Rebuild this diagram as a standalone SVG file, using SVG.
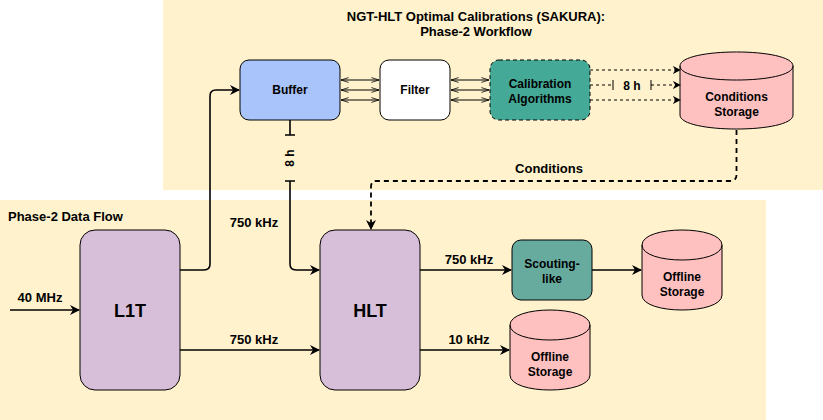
<svg xmlns="http://www.w3.org/2000/svg" width="823" height="420" viewBox="0 0 823 420">
<defs>
<style>
text{font-family:"Liberation Sans",Arial,sans-serif;font-weight:bold;font-size:12px;fill:#000;text-anchor:middle}
.big{font-size:18px}
.e{font-size:13px}
.lbl{text-anchor:start;font-size:13px}
.node{stroke:#000;stroke-width:1}
.c{fill:none;stroke:#000;stroke-width:1.6}
.thin{fill:none;stroke:#000;stroke-width:1}
.dash{fill:none;stroke:#000;stroke-width:1;stroke-dasharray:3 3}
.dash2{fill:none;stroke:#000;stroke-width:1.8;stroke-dasharray:5 4}
</style>
<marker id="ar" viewBox="0 0 10 10" refX="9" refY="5" markerWidth="8" markerHeight="8" markerUnits="userSpaceOnUse" orient="auto">
<path d="M0,0 L10,5 L0,10 L3,5 z" fill="#000"/>
</marker>
<marker id="arb" viewBox="0 0 10 10" refX="9" refY="5" markerWidth="10" markerHeight="10" markerUnits="userSpaceOnUse" orient="auto">
<path d="M0,0 L10,5 L0,10 L3,5 z" fill="#000"/>
</marker>
<marker id="op" viewBox="0 0 10 10" refX="9.5" refY="5" markerWidth="8" markerHeight="8" markerUnits="userSpaceOnUse" orient="auto-start-reverse">
<path d="M0,2 L9.5,5 L0,8" fill="none" stroke="#000" stroke-width="1"/>
</marker>
</defs>

<g id="panels">
<rect x="163" y="0" width="660" height="190" fill="#FFF2CC"/>
<rect x="0" y="200" width="766" height="220" fill="#FFF2CC"/>
<text class="e" x="476" y="21">NGT-HLT Optimal Calibrations (SAKURA):</text>
<text class="e" x="476" y="36">Phase-2 Workflow</text>
<text class="lbl" x="8" y="221">Phase-2 Data Flow</text>
</g>

<g id="buffer"><rect class="node" x="240" y="60" width="100" height="60" rx="9" fill="#A9C4FB"/><text x="290" y="94">Buffer</text></g>
<g id="filter"><rect class="node" x="380" y="60" width="70" height="60" rx="9" fill="#FFFFFF"/><text x="415" y="94">Filter</text></g>
<g id="calib"><rect x="490" y="60" width="100" height="60" rx="9" fill="#44A996" stroke="#000" stroke-dasharray="4 3"/><text x="540" y="88">Calibration</text><text x="540" y="103">Algorithms</text></g>
<g id="conditions">
<path class="node" fill="#FFC0C0" d="M680,66 C680,47.3 793,47.3 793,66 L793,115 C793,133.7 680,133.7 680,115 Z"/>
<path fill="none" stroke="#000" d="M680,66 C680,84.7 793,84.7 793,66"/>
<text x="736.5" y="101">Conditions</text><text x="736.5" y="116">Storage</text></g>
<g id="l1t"><rect class="node" x="80" y="230" width="100" height="160" rx="15" fill="#D7BFD9"/><text class="big" x="130" y="317">L1T</text></g>
<g id="hlt"><rect class="node" x="320" y="230" width="100" height="160" rx="15" fill="#D7BFD9"/><text class="big" x="370" y="317">HLT</text></g>
<g id="scouting"><rect class="node" x="512" y="240" width="80" height="60" rx="9" fill="#67AB9F"/><text x="552" y="268">Scouting-</text><text x="552" y="283">like</text></g>
<g id="offline1">
<path class="node" fill="#FFC0C0" d="M642,245 C642,225 722,225 722,245 L722,295 C722,315 642,315 642,295 Z"/>
<path fill="none" stroke="#000" d="M642,245 C642,265 722,265 722,245"/>
<text x="682" y="281">Offline</text><text x="682" y="296">Storage</text></g>
<g id="offline2">
<path class="node" fill="#FFC0C0" d="M510,325 C510,305 590,305 590,325 L590,375 C590,395 510,395 510,375 Z"/>
<path fill="none" stroke="#000" d="M510,325 C510,345 590,345 590,325"/>
<text x="550" y="361">Offline</text><text x="550" y="376">Storage</text></g>

<g id="connectors">
<path class="thin" d="M341,80 H379" marker-start="url(#op)" marker-end="url(#op)"/>
<path class="thin" d="M341,90 H379" marker-start="url(#op)" marker-end="url(#op)"/>
<path class="thin" d="M341,100 H379" marker-start="url(#op)" marker-end="url(#op)"/>
<path class="thin" d="M451,80 H489" marker-start="url(#op)" marker-end="url(#op)"/>
<path class="thin" d="M451,90 H489" marker-start="url(#op)" marker-end="url(#op)"/>
<path class="thin" d="M451,100 H489" marker-start="url(#op)" marker-end="url(#op)"/>
<path class="dash" d="M590,70 H680" marker-end="url(#ar)"/>
<path class="dash" d="M590,100 H680" marker-end="url(#ar)"/>
<path class="dash" d="M590,85 H613"/>
<path class="thin" d="M613,80 V90 M651,80 V90"/>
<text x="632" y="90">8 h</text>
<path class="dash" d="M651,85 H680" marker-end="url(#ar)"/>
<path class="dash2" d="M736.5,130 V175 Q736.5,181 730,181 H376 Q371,181 371,187 V229" marker-end="url(#arb)"/>
<text class="e" x="549" y="173">Conditions</text>
<path class="c" d="M180,270 H204 Q210,270 210,264 V96 Q210,90 216,90 H239" marker-end="url(#arb)"/>
<path class="c" d="M290,120 V135 M285,135 H295"/>
<text transform="translate(294,158) rotate(-90)">8 h</text>
<path class="c" d="M285,181 H295 M290,181 V264 Q290,270 296,270 H319" marker-end="url(#arb)"/>
<text class="e" x="254" y="227">750 kHz</text>
<path class="c" d="M10,310 H79" marker-end="url(#arb)"/>
<text class="e" x="40" y="302">40 MHz</text>
<path class="c" d="M180,350 H319" marker-end="url(#arb)"/>
<text class="e" x="254" y="344">750 kHz</text>
<path class="c" d="M420,270 H511" marker-end="url(#arb)"/>
<text class="e" x="469" y="264">750 kHz</text>
<path class="c" d="M592,270 H641" marker-end="url(#arb)"/>
<path class="c" d="M420,350 H509" marker-end="url(#arb)"/>
<text class="e" x="469" y="344">10 kHz</text>
</g>
</svg>
